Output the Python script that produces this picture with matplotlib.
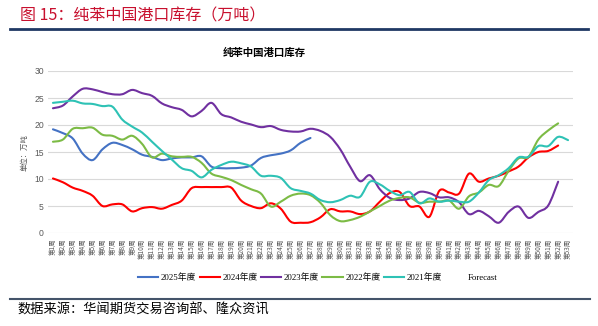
import matplotlib
matplotlib.use("Agg")
import matplotlib.pyplot as plt
from matplotlib.path import Path
from matplotlib.patches import PathPatch
from matplotlib.lines import Line2D
import numpy as np

plt.rcParams['font.family'] = ['Liberation Sans', 'Noto Sans CJK SC', 'DejaVu Sans']

# ---- data: weekly port inventory of pure benzene (10k tonnes) ----
weeks = [f"第{i}周" for i in range(1, 54)]

inv_2025 = [19.2, 18.5, 17.5, 14.7, 13.5, 15.5, 16.7, 16.3, 15.5, 14.5,
            14.1, 13.5, 13.8, 14.0, 14.0, 14.2, 12.3, 12.0, 12.0, 12.1,
            12.5, 13.9, 14.4, 14.7, 15.3, 16.7, 17.6]

inv_2024 = [10.1, 9.4, 8.4, 7.8, 6.9, 5.0, 5.3, 5.3, 4.0, 4.6,
            4.8, 4.5, 5.2, 6.0, 8.3, 8.5, 8.5, 8.5, 8.4, 6.0,
            5.0, 4.6, 5.5, 4.5, 2.1, 1.9, 2.0, 2.9, 4.4, 4.0,
            4.0, 3.5, 4.0, 5.8, 7.4, 7.6, 5.0, 4.9, 3.0, 7.8,
            7.5, 7.3, 11.0, 9.5, 10.1, 10.6, 11.4, 12.3, 14.0, 15.0,
            15.2, 16.2]

inv_2023 = [23.1, 23.6, 25.3, 26.7, 26.6, 26.1, 25.7, 25.7, 26.5, 25.9,
            25.4, 24.0, 23.3, 22.8, 21.6, 22.6, 24.1, 22.0, 21.4, 20.6,
            20.1, 19.6, 19.8, 19.1, 18.8, 18.8, 19.3, 18.9, 17.8, 15.5,
            12.3, 9.6, 10.7, 8.1, 6.5, 6.1, 6.4, 7.6, 7.4, 6.6,
            6.6, 5.7, 3.5, 4.1, 3.1, 1.9, 3.9, 4.9, 2.8, 3.9,
            5.1, 9.5]

inv_2022 = [16.9, 17.3, 19.3, 19.4, 19.5, 18.2, 18.0, 17.3, 18.0, 16.5,
            14.0, 14.7, 14.2, 14.1, 14.1, 13.0, 11.0, 10.4, 9.8, 8.9,
            8.1, 7.3, 4.9, 5.8, 6.9, 7.3, 7.0, 5.6, 3.3, 2.2,
            2.4, 3.0, 4.0, 5.0, 6.0, 6.5, 6.6, 5.6, 5.8, 5.8,
            6.0, 4.5, 6.8, 7.5, 8.9, 8.7, 11.5, 13.8, 14.1, 17.3,
            19.0, 20.3]

inv_2021 = [24.1, 24.3, 24.5, 24.0, 23.9, 23.5, 23.4, 21.0, 19.7, 18.6,
            16.9, 15.2, 13.6, 12.0, 11.5, 10.3, 11.7, 12.6, 13.2, 12.9,
            12.3, 10.6, 10.6, 10.2, 8.3, 7.8, 7.3, 6.1, 5.7, 6.1,
            6.9, 6.7, 9.5, 9.0, 7.8, 7.0, 7.6, 5.5, 6.4, 5.8,
            6.0, 5.8, 5.8, 7.5, 9.8, 10.7, 12.0, 14.0, 14.1, 16.1,
            16.1, 17.8, 17.2]

series_labels = ["2025年度", "2024年度", "2023年度", "2022年度", "2021年度"]
series_values = [inv_2025, inv_2024, inv_2023, inv_2022, inv_2021]
series_colors = ["#4472C4", "#FF0000", "#7030A0", "#7CBB45", "#2EC2B5"]
y_ticks = [0, 5, 10, 15, 20, 25, 30]


def smooth_path(xs, ys):
    """Cubic Bezier path through the points (Catmull-Rom style smoothing)."""
    pts = np.column_stack([xs, ys]).astype(float)
    n = len(pts)
    verts = [pts[0]]
    codes = [Path.MOVETO]
    for i in range(n - 1):
        p0 = pts[i - 1] if i > 0 else pts[i]
        p1 = pts[i]
        p2 = pts[i + 1]
        p3 = pts[i + 2] if i + 2 < n else pts[i + 1]
        c1 = p1 + (p2 - p0) / 6.0
        c2 = p2 - (p3 - p1) / 6.0
        verts += [c1, c2, p2]
        codes += [Path.CURVE4] * 3
    return Path(verts, codes)


W, H = 598, 326
fig = plt.figure(figsize=(W / 100, H / 100), dpi=100)

# chart area
ax = fig.add_axes([48 / W, 1 - 233 / H, (573 - 48) / W, (233 - 71) / H])
ax.set_xlim(0.5, 53.5)
ax.set_ylim(0, 30)

for vals, color in zip(series_values, series_colors):
    xs = np.arange(1, len(vals) + 1)
    patch = PathPatch(smooth_path(xs, vals), facecolor="none", edgecolor=color,
                      linewidth=1.5, capstyle="round", joinstyle="round",
                      transform=ax.transData, zorder=3)
    ax.add_patch(patch)

ax.set_yticks(y_ticks)
ax.set_yticklabels([str(v) for v in y_ticks], fontsize=6.2, color="#595959")
ax.set_xticks(np.arange(1, 54))
ax.set_xticklabels(weeks, rotation=90, fontsize=4.7, color="#595959",
                   family=["Noto Sans CJK SC"])
ax.tick_params(axis="both", length=0, pad=3)
ax.tick_params(axis="x", pad=4)
ax.grid(axis="y", color="#D9D9D9", linewidth=0.8)
ax.set_axisbelow(True)
for s in ax.spines.values():
    s.set_visible(False)

fig.text(25 / W, 1 - 153 / H, "单位：万吨", rotation=90, ha="center", va="center",
         fontsize=5.3, color="#595959", family=["Noto Sans CJK SC"])

# chart title
fig.text(264 / W, 1 - 53 / H, "纯苯中国港口库存", ha="center", va="center",
         fontsize=7.5, fontweight="bold", color="#000000",
         family=["Noto Sans CJK SC"])

# legend
handles = [Line2D([0], [0], color=c, linewidth=1.5) for c in series_colors]
handles.append(Line2D([0], [0], color="none", linewidth=1.5))
labels = series_labels + ["Forecast"]
fig.legend(handles, labels, loc="center", bbox_to_anchor=(318 / W, 1 - 278 / H),
           ncol=6, frameon=False, handlelength=2.3,
           handletextpad=0.3, columnspacing=0.4,
           prop={"family": ["Liberation Serif", "Noto Sans CJK SC"], "size": 6.3})

# report header and footer
fig.text(20 / W, 1 - 16 / H, "图 15：纯苯中国港口库存（万吨）", ha="left", va="center",
         fontsize=11.5, color="#C8102E", family=["Noto Sans CJK SC"])
fig.add_artist(Line2D([10 / W, 588 / W], [1 - 29 / H, 1 - 29 / H],
                      color="#1F3864", linewidth=2, transform=fig.transFigure))
fig.add_artist(Line2D([10 / W, 590 / W], [1 - 299 / H, 1 - 299 / H],
                      color="#44546A", linewidth=1.5, transform=fig.transFigure))
fig.text(17 / W, 1 - 310 / H, "数据来源：华闻期货交易咨询部、隆众资讯", ha="left",
         va="center", fontsize=9.5, color="#000000", family=["Noto Sans CJK SC"])

fig.savefig("out.png", dpi=100)
